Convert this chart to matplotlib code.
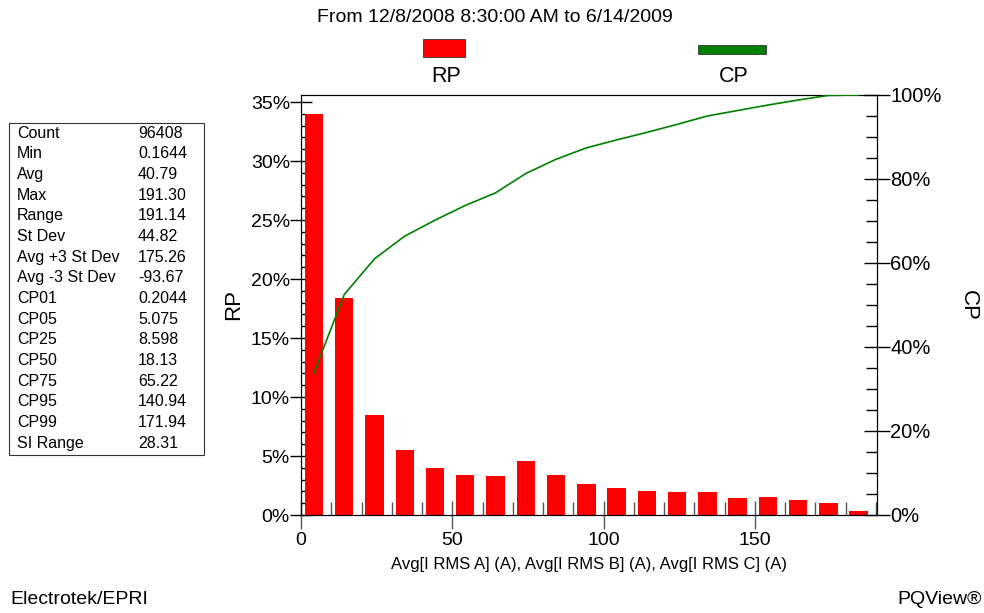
import matplotlib
matplotlib.use("Agg")
import matplotlib.pyplot as plt
from matplotlib.patches import Rectangle
from matplotlib.ticker import MultipleLocator, FuncFormatter

plt.rcParams['font.family'] = ['Liberation Sans', 'DejaVu Sans']

W, H = 984, 613

# histogram bins (bar centres, in A)
bin_centers = [4.3, 14.3, 24.3, 34.3, 44.3, 54.3, 64.3, 74.3, 84.3, 94.3,
               104.3, 114.3, 124.3, 134.3, 144.3, 154.3, 164.3, 174.3, 184.3]
# relative probability (%)
rp = [34.0, 18.4, 8.45, 5.55, 4.0, 3.35, 3.3, 4.6, 3.35, 2.6,
      2.3, 2.0, 1.93, 1.93, 1.48, 1.52, 1.28, 1.02, 0.3]
# cumulative probability (%)
cp = [33.9, 52.5, 61.0, 66.4, 70.2, 73.7, 76.7, 81.3, 84.7, 87.4,
      89.3, 91.1, 93.0, 95.0, 96.3, 97.6, 98.8, 99.9, 100.0]

stat_names = ["Count", "Min", "Avg", "Max", "Range", "St Dev", "Avg +3 St Dev",
              "Avg -3 St Dev", "CP01", "CP05", "CP25", "CP50", "CP75", "CP95",
              "CP99", "SI Range"]
stat_values = ["96408", "0.1644", "40.79", "191.30", "191.14", "44.82", "175.26",
               "-93.67", "0.2044", "5.075", "8.598", "18.13", "65.22", "140.94",
               "171.94", "28.31"]

title = "From 12/8/2008 8:30:00 AM to 6/14/2009"
x_label = "Avg[I RMS A] (A), Avg[I RMS B] (A), Avg[I RMS C] (A)"


def fx(x):
    return x / W


def fy(y):
    return 1 - y / H


fig = plt.figure(figsize=(W / 100, H / 100), dpi=100)
ax = fig.add_axes([fx(301), fy(515), fx(877) - fx(301), fy(95) - fy(515)])
ax2 = ax.twinx()

ax.bar(bin_centers, rp, width=6.1, color="#ff0000", edgecolor="none", zorder=2)
ax2.plot(bin_centers, cp, color="#008000", linewidth=1.2, zorder=3)

ax.set_xlim(0, 190.4)
ax.set_ylim(0, 35.6)
ax2.set_ylim(0, 100)

pct = FuncFormatter(lambda v, p: f"{v:.0f}%")
ax.yaxis.set_major_locator(MultipleLocator(5))
ax.yaxis.set_minor_locator(MultipleLocator(1))
ax.yaxis.set_major_formatter(pct)
ax2.yaxis.set_major_locator(MultipleLocator(20))
ax2.yaxis.set_minor_locator(MultipleLocator(5))
ax2.yaxis.set_major_formatter(pct)
ax.xaxis.set_major_locator(MultipleLocator(50))
ax.xaxis.set_minor_locator(MultipleLocator(10))

ax.tick_params(axis="y", which="major", direction="inout", length=16, width=1,
               labelsize=14, pad=0)
ax.tick_params(axis="y", which="minor", direction="in", length=3, width=1)
ax.tick_params(axis="x", which="major", direction="inout", length=20, width=1,
               labelsize=14, pad=2, color="#555555")
ax.tick_params(axis="x", which="minor", direction="in", length=9.5, width=1,
               color="#555555")
ax2.tick_params(axis="y", which="major", direction="inout", length=19, width=1,
                labelsize=14.5, pad=0)
ax2.tick_params(axis="y", which="minor", direction="in", length=8, width=1)

ax.set_ylabel("RP", fontsize=16, labelpad=5)
ax.set_xlabel(x_label, fontsize=12, labelpad=6)
# right axis title placed directly so it stays inside the figure
fig.text(fx(968), fy(305), "CP", ha="center", va="center", rotation=-90,
         fontsize=16)

# header and legend
fig.text(fx(495), fy(17), title, ha="center", va="center", fontsize=14)
fig.patches.append(Rectangle((fx(423), fy(57)), fx(42), 18 / H,
                             transform=fig.transFigure, facecolor="#ff0000",
                             edgecolor="#333333", linewidth=0.6))
fig.patches.append(Rectangle((fx(698), fy(54)), fx(68), 9 / H,
                             transform=fig.transFigure, facecolor="#008000",
                             edgecolor="#333333", linewidth=0.6))
fig.text(fx(446), fy(77), "RP", ha="center", va="center", fontsize=15.5)
fig.text(fx(734), fy(77), "CP", ha="center", va="center", fontsize=15.5)

# statistics box
fig.patches.append(Rectangle((fx(9), fy(455)), fx(195), 332 / H,
                             transform=fig.transFigure, facecolor="none",
                             edgecolor="#333333", linewidth=0.8))
for i, (name, val) in enumerate(zip(stat_names, stat_values)):
    y = 133 + i * 20.67
    fig.text(fx(17), fy(y), name, ha="left", va="center", fontsize=11.5)
    fig.text(fx(138), fy(y), val, ha="left", va="center", fontsize=11.5)

fig.text(fx(10), fy(600), "Electrotek/EPRI", ha="left", va="center", fontsize=14)
fig.text(fx(982), fy(600), "PQView®", ha="right", va="center", fontsize=14)

fig.savefig("out.png", dpi=100)
